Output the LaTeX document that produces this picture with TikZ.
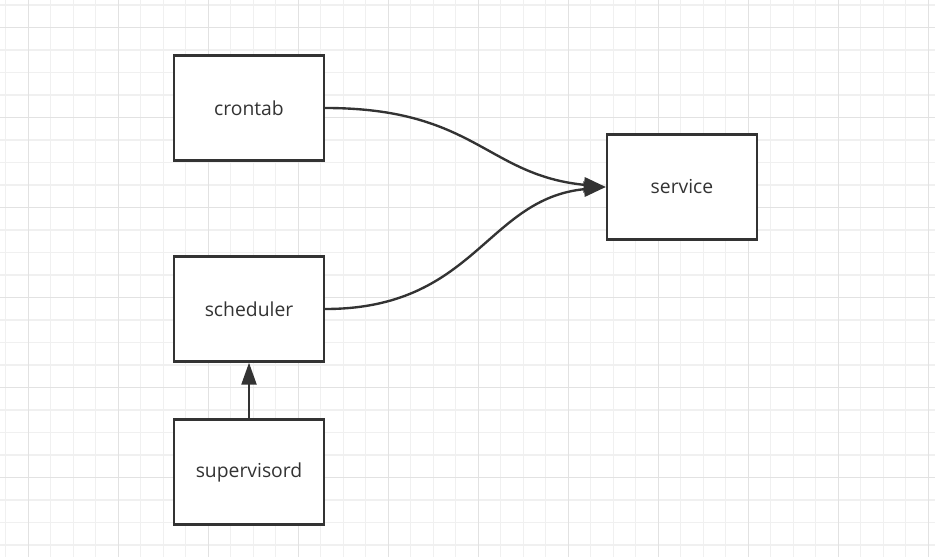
\documentclass[tikz,border=0pt]{standalone}
\usepackage{fontspec}
\setmainfont{Open Sans}
\usetikzlibrary{arrows.meta}
\definecolor{gridminor}{HTML}{F0F0F0}
\definecolor{gridmajor}{HTML}{E2E2E2}
\definecolor{inkgray}{HTML}{333333}
\begin{document}
\begin{tikzpicture}
[x=0.02cm,y=-0.02cm,
  boxdecorate/.style={shape=rectangle,draw=inkgray,line width=1.35pt,fill=white,
    minimum width=3cm,minimum height=2.1cm,inner sep=0pt,
    text=inkgray,font=\fontsize{11}{13}\selectfont},%
  linedecorate/.style={-{Triangle[length=12.5pt,width=8.5pt]},draw=inkgray,line width=1.35pt},%
  minordecorate/.style={draw=gridminor,line width=0.6pt},%
  majordecorate/.style={draw=gridmajor,line width=0.6pt}]
\useasboundingbox (0,0) rectangle (935,557);
\fill[white] (0,0) rectangle (935,557);
%% grid
\foreach \k in {0,...,41} {
  \draw[minordecorate] (5.8+22.5*\k,0) -- (5.8+22.5*\k,557);
}
\foreach \k in {0,...,24} {
  \draw[minordecorate] (0,5+22.5*\k) -- (935,5+22.5*\k);
}
\foreach \k in {0,...,10} {
  \draw[majordecorate] (28.3+90*\k,0) -- (28.3+90*\k,557);
}
\foreach \k in {0,...,6} {
  \draw[majordecorate] (0,27.3+90*\k) -- (935,27.3+90*\k);
}
%% boxes
\foreach \nodename/\x/\y in {
  crontab/249/108, scheduler/249/309,
  supervisord/249/472, service/682/187} {
  \node (\nodename) at (\x,\y) [boxdecorate] {\nodename};
}
%% arrows
\draw[linedecorate] (crontab.east) .. controls +(150,0) and +(-120,-12) .. (service.west);
\draw[linedecorate] (scheduler.east) .. controls +(150,0) and +(-120,12) .. (service.west);
\draw[linedecorate] (supervisord.north) -- (scheduler.south);
\end{tikzpicture}
\end{document}
